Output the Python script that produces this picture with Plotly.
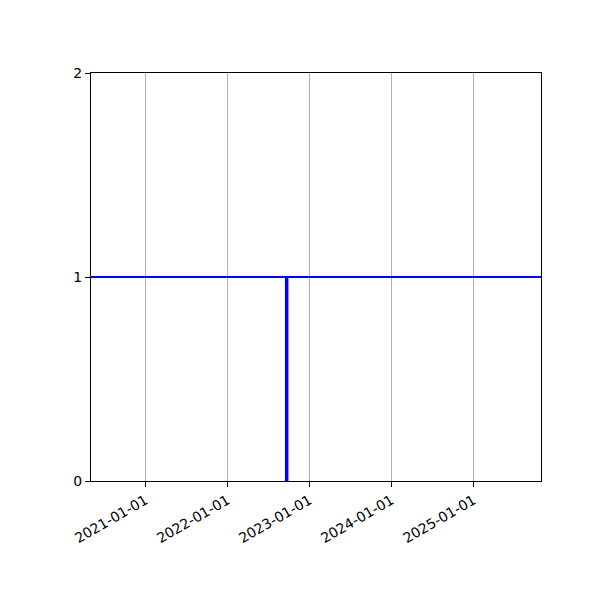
import plotly.graph_objects as go

# dados
datas_linha = ["2020-05-04", "2025-10-28"]
nivel_linha = [1, 1]
data_evento = ["2022-09-22", "2022-09-22"]
altura_evento = [0, 1]
ticks_x = ["2021-01-01", "2022-01-01", "2023-01-01", "2024-01-01", "2025-01-01"]
ticks_y = [0, 1, 2]

fig = go.Figure()

fig.add_trace(go.Scatter(
    x=datas_linha, y=nivel_linha, mode="lines",
    line=dict(color="#0000ff", width=2), showlegend=False
))

fig.add_trace(go.Scatter(
    x=data_evento, y=altura_evento, mode="lines",
    line=dict(color="#0000ff", width=3.5), showlegend=False
))

fig.update_xaxes(
    type="date", automargin=False,
    range=[datas_linha[0], datas_linha[1]],
    tickvals=ticks_x, ticktext=ticks_x, tickangle=-30,
    showgrid=True, gridcolor="#b0b0b0", gridwidth=1,
    showline=True, linecolor="black", linewidth=1, mirror=True,
    ticks="outside", ticklen=5, tickcolor="black", zeroline=False,
    tickfont=dict(family="DejaVu Sans", size=14, color="black")
)
fig.update_yaxes(
    range=[0, 2], tickvals=ticks_y, automargin=False,
    showgrid=False,
    showline=True, linecolor="black", linewidth=1, mirror=True,
    ticks="outside", ticklen=5, tickcolor="black", zeroline=False,
    tickfont=dict(family="DejaVu Sans", size=14, color="black")
)

# a página tem margem de 8px, compensada aqui
fig.update_layout(
    width=600, height=600,
    margin=dict(l=83, r=67, t=65, b=127),
    plot_bgcolor="white", paper_bgcolor="white",
    showlegend=False
)

fig.write_html("out.html")
